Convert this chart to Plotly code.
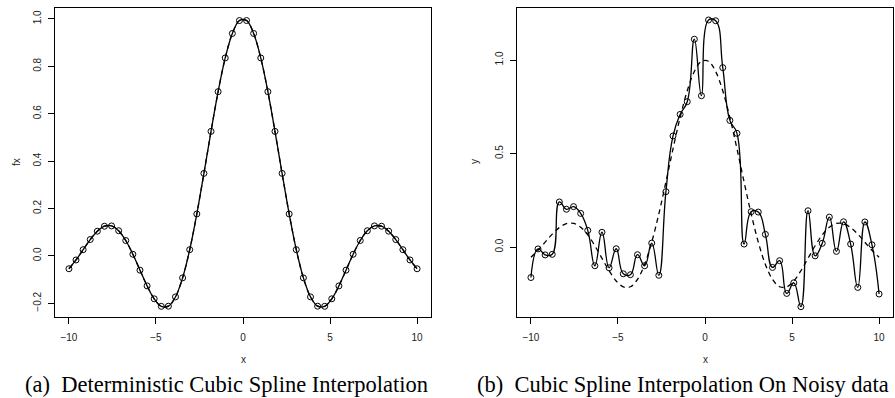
import plotly.graph_objects as go

W, H = 895, 398

# ---- data ----
x_vals = [-10.0, -9.592, -9.184, -8.776, -8.367, -7.959, -7.551, -7.143, -6.735, -6.327,
          -5.918, -5.510, -5.102, -4.694, -4.286, -3.878, -3.469, -3.061, -2.653, -2.245,
          -1.837, -1.429, -1.020, -0.612, -0.204, 0.204, 0.612, 1.020, 1.429, 1.837,
          2.245, 2.653, 3.061, 3.469, 3.878, 4.286, 4.694, 5.102, 5.510, 5.918,
          6.327, 6.735, 7.143, 7.551, 7.959, 8.367, 8.776, 9.184, 9.592, 10.0]

fx_vals = [-0.0544, -0.0173, 0.0260, 0.0689, 0.1041, 0.1250, 0.1264, 0.1061, 0.0648, 0.0068,
           -0.0603, -0.1267, -0.1813, -0.2130, -0.2124, -0.1731, -0.0928, 0.0262, 0.1769, 0.3481,
           0.5253, 0.6929, 0.8352, 0.9386, 0.9931, 0.9931, 0.9386, 0.8352, 0.6929, 0.5253,
           0.3481, 0.1769, 0.0262, -0.0928, -0.1731, -0.2124, -0.2130, -0.1813, -0.1267, -0.0603,
           0.0068, 0.0648, 0.1061, 0.1264, 0.1250, 0.1041, 0.0689, 0.0260, -0.0173, -0.0544]

y_noisy = [-0.163, -0.010, -0.042, -0.039, 0.241, 0.202, 0.216, 0.180, 0.089, -0.100,
           0.079, -0.111, -0.009, -0.143, -0.148, -0.041, -0.100, 0.021, -0.151, 0.296,
           0.594, 0.709, 0.777, 1.111, 0.809, 1.214, 1.210, 0.959, 0.677, 0.608,
           0.016, 0.189, 0.187, 0.068, -0.109, -0.073, -0.248, -0.191, -0.319, 0.194,
           -0.047, 0.020, 0.160, -0.023, 0.135, 0.016, -0.216, 0.134, 0.012, -0.251]

x_ticks = [-10, -5, 0, 5, 10]
left_y_ticks = [-0.2, 0.0, 0.2, 0.4, 0.6, 0.8, 1.0]
right_y_ticks = [0.0, 0.5, 1.0]

caption_a = "(a)  Deterministic Cubic Spline Interpolation"
caption_b = "(b)  Cubic Spline Interpolation On Noisy data"


def fxp(px):
    return px / W


def fyp(py):
    return 1 - py / H


fig = go.Figure()

line_style = dict(color="black", width=1.3)
dash_style = dict(color="black", width=1.3, dash="5px,4px")
marker_style = dict(symbol="circle-open", size=6, color="black", line=dict(width=1, color="black"))

# left panel
fig.add_trace(go.Scatter(x=x_vals, y=fx_vals, mode="lines", line=dict(**line_style, shape="spline"),
                         xaxis="x", yaxis="y", showlegend=False))
fig.add_trace(go.Scatter(x=x_vals, y=fx_vals, mode="lines", line=dict(**dash_style, shape="spline"),
                         xaxis="x", yaxis="y", showlegend=False))
fig.add_trace(go.Scatter(x=x_vals, y=fx_vals, mode="markers", marker=marker_style,
                         xaxis="x", yaxis="y", showlegend=False))

# right panel
fig.add_trace(go.Scatter(x=x_vals, y=y_noisy, mode="lines",
                         line=dict(**line_style, shape="spline", smoothing=1.3),
                         xaxis="x2", yaxis="y2", showlegend=False))
fig.add_trace(go.Scatter(x=x_vals, y=fx_vals, mode="lines", line=dict(**dash_style, shape="spline"),
                         xaxis="x2", yaxis="y2", showlegend=False))
fig.add_trace(go.Scatter(x=x_vals, y=y_noisy, mode="markers", marker=marker_style,
                         xaxis="x2", yaxis="y2", showlegend=False))

tick_font = dict(family="Liberation Sans, Arial, sans-serif", size=10, color="#222")

common_x = dict(showline=True, linecolor="black", linewidth=1, mirror=True, ticks="outside",
                ticklen=6, tickwidth=1, tickcolor="black", showgrid=False, zeroline=False,
                tickfont=tick_font, tickvals=x_ticks, ticklabelstandoff=5)
common_y = dict(showline=True, linecolor="black", linewidth=1, mirror=True, ticks="outside",
                ticklen=6, tickwidth=1, tickcolor="black", showgrid=False, zeroline=False,
                tickfont=tick_font, tickangle=-90, tickformat=".1f", ticklabelstandoff=3)

fig.update_layout(
    width=W, height=H,
    margin=dict(l=0, r=0, t=0, b=0),
    paper_bgcolor="white", plot_bgcolor="white",
    xaxis=dict(**common_x, domain=[fxp(55), fxp(431)], range=[-10.8, 10.8], anchor="y"),
    yaxis=dict(**common_y, domain=[fyp(317), fyp(8)], range=[-0.258, 1.046],
               tickvals=left_y_ticks, anchor="x"),
    xaxis2=dict(**common_x, domain=[fxp(517), fxp(893)], range=[-10.8, 10.8], anchor="y2"),
    yaxis2=dict(**common_y, domain=[fyp(317), fyp(8)], range=[-0.374, 1.278],
                tickvals=right_y_ticks, anchor="x2"),
)

label_font = dict(family="Liberation Sans, Arial, sans-serif", size=10, color="#222")
cap_font = dict(family="Liberation Serif, Times New Roman, serif", size=22.5, color="black")

annos = [
    dict(text="x", x=fxp(243), y=fyp(359), font=label_font),
    dict(text="x", x=fxp(705), y=fyp(359), font=label_font),
    dict(text="fx", x=fxp(16), y=fyp(162), font=label_font, textangle=-90),
    dict(text="y", x=fxp(474), y=fyp(162), font=label_font, textangle=-90),
    dict(text=caption_a, x=fxp(23), y=fyp(384), font=cap_font, xanchor="left"),
    dict(text=caption_b, x=fxp(475), y=fyp(384), font=cap_font, xanchor="left"),
]
for a in annos:
    a.setdefault("xanchor", "center")
    a.update(xref="paper", yref="paper", yanchor="middle", showarrow=False)
    fig.add_annotation(**a)

fig.write_html("out.html")
